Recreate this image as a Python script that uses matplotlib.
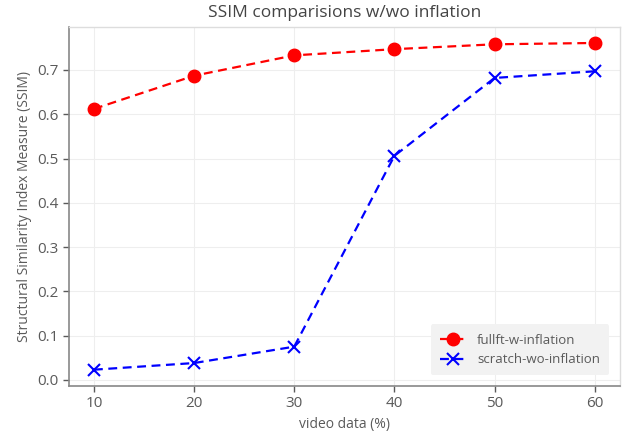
import numpy as np
import matplotlib.pyplot as plt

video_pct = [10, 20, 30, 40, 50, 60]
fullft_w_inflation = [0.612, 0.687, 0.733, 0.747, 0.758, 0.761]
scratch_wo_inflation = [0.023, 0.038, 0.075, 0.506, 0.682, 0.697]

plt.rcParams['font.family'] = ['Open Sans', 'DejaVu Sans']
text_color = "#5a5a5a"

fig = plt.figure(figsize=(6.26, 4.33), dpi=100)
ax = fig.add_axes([0.110, 0.1085, 0.880, 0.830])

ax.plot(video_pct, fullft_w_inflation, color="red", linestyle="--", marker="o",
        markersize=9, linewidth=1.6, dashes=(4, 2.5), label="fullft-w-inflation")
ax.plot(video_pct, scratch_wo_inflation, color="blue", linestyle="--", marker="x",
        markersize=9, markeredgewidth=1.5, linewidth=1.6, dashes=(4, 2.5),
        label="scratch-wo-inflation")

ax.set_title("SSIM comparisions w/wo inflation", fontsize=12.5, color="#444444", pad=7)
ax.set_xlabel("video data (%)", fontsize=10, color=text_color)
ax.set_ylabel("Structural Similarity Index Measure (SSIM)", fontsize=10, color=text_color)
ax.set_xticks(video_pct)
ax.set_yticks(np.arange(0, 0.71, 0.1))
ax.tick_params(colors=text_color, labelsize=11, length=4, width=1)
ax.grid(True, color="#eeeeee", linewidth=0.8)
ax.set_axisbelow(True)

for side in ["left", "bottom"]:
    ax.spines[side].set_color("#888888")
    ax.spines[side].set_linewidth(1.2)
for side in ["top", "right"]:
    ax.spines[side].set_color("#dddddd")
    ax.spines[side].set_linewidth(1.0)

leg = ax.legend(loc="lower right", fontsize=9.5, frameon=True, borderaxespad=0.8,
                borderpad=0.7)
leg.get_frame().set_facecolor("#f2f2f2")
leg.get_frame().set_edgecolor("none")
leg.get_frame().set_alpha(1.0)
for t in leg.get_texts():
    t.set_color(text_color)

fig.savefig("out.png", dpi=100)
